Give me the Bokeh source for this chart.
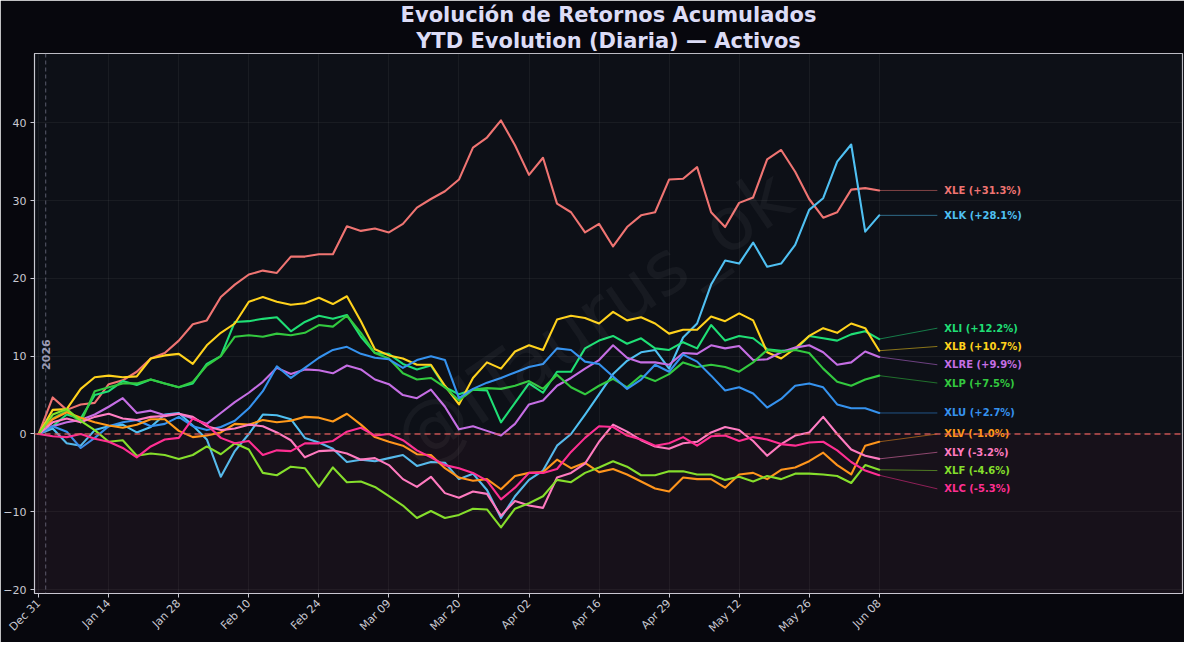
import math
from bokeh.plotting import figure
from bokeh.models import FixedTicker, Label, Span, BoxAnnotation, ColumnDataSource, Title
from bokeh.embed import file_html
from bokeh.resources import INLINE
from bokeh.core.properties import value

# ---------------- data ----------------
DAY = list(range(0, 121, 2))          # trading-day index, Dec 31 = 0
TICK_POS = [0, 10, 20, 30, 40, 50, 60, 70, 80, 90, 100, 110, 120]
TICK_LABELS = ["Dec 31", "Jan 14", "Jan 28", "Feb 10", "Feb 24", "Mar 09", "Mar 20",
               "Apr 02", "Apr 16", "Apr 29", "May 12", "May 26", "Jun 08"]
YEAR_START = 1                         # first session of 2026
Y_TICKS = [-20, -10, 0, 10, 20, 30, 40]

XLE = [0, 4.7, 3.1, 3.8, 4.0, 6.4, 6.9, 8.0, 9.7, 10.4, 12.0, 14.1, 14.6, 17.6, 19.2, 20.5, 21.0, 20.7, 22.8, 22.8,
       23.1, 23.1, 26.7, 26.1, 26.4, 25.9, 27.0, 29.1, 30.2, 31.2, 32.7, 36.8, 38.1, 40.3, 37.1, 33.3, 35.5, 29.6, 28.5,
       25.9, 27.0, 24.1, 26.6, 28.1, 28.5, 32.7, 32.8, 34.3, 28.5, 26.6, 29.7, 30.4, 35.3, 36.5, 33.7, 30.2, 27.8, 28.5,
       31.4, 31.6, 31.3]
XLK = [0, 0.7, -1.2, -1.5, 0.5, 1.0, 1.2, 0.2, 0.9, 2.5, 2.7, 1.1, -0.7, -5.5, -2.2, 0.0, 2.5, 2.4, 1.9, -0.5,
       -1.1, -1.9, -3.6, -3.3, -3.5, -3.1, -2.7, -4.1, -3.6, -3.7, -5.8, -5.1, -7.2, -10.8, -8.0, -5.9, -4.7, -1.5, 0.0,
       2.5, 5.1, 7.7, 9.4, 10.5, 10.8, 8.4, 12.4, 14.2, 19.2, 22.3, 21.9, 24.6, 21.5, 21.9, 24.3, 28.8, 30.3, 35.0,
       37.2, 26.0, 28.1]
XLI = [0, 1.0, 2.5, 2.0, 5.0, 5.5, 6.8, 6.3, 7.0, 6.5, 6.0, 6.5, 9.0, 10.0, 14.4, 14.5, 14.8, 15.0, 13.2, 14.4,
       15.2, 14.8, 15.3, 12.5, 10.4, 10.3, 9.0, 8.3, 8.8, 6.0, 5.1, 5.7, 5.6, 1.5, 4.0, 6.5, 5.3, 8.0, 8.0,
       11.0, 12.0, 12.6, 11.6, 12.3, 11.0, 10.8, 11.8, 11.0, 14.0, 12.0, 12.6, 12.3, 10.9, 10.7, 10.8, 12.6, 12.3, 12.0,
       12.8, 13.2, 12.2]
XLB = [0, 3.1, 3.2, 5.8, 7.3, 7.5, 7.3, 7.4, 9.7, 10.1, 10.3, 9.0, 11.4, 13.0, 14.2, 17.0, 17.6, 17.0, 16.6, 16.8,
       17.5, 16.7, 17.7, 14.5, 10.9, 10.1, 9.7, 8.9, 8.9, 6.2, 3.8, 7.2, 9.2, 8.4, 10.6, 11.4, 10.8, 14.7, 15.2,
       14.9, 14.2, 15.7, 14.6, 15.0, 14.2, 12.9, 13.4, 13.4, 15.1, 14.5, 15.5, 14.6, 10.5, 9.7, 11.0, 12.6, 13.6, 13.0,
       14.2, 13.6, 10.7]
XLRE = [0, 1.0, 1.5, 1.8, 2.5, 3.5, 4.6, 2.7, 3.0, 2.4, 2.6, 2.0, 1.3, 2.7, 4.1, 5.3, 6.7, 8.5, 7.7, 8.3,
        8.2, 7.8, 8.8, 8.3, 7.0, 6.4, 5.0, 4.6, 5.7, 3.5, 0.6, 1.0, 0.4, -0.2, 1.3, 3.8, 4.3, 6.2, 7.2,
        8.4, 9.5, 11.4, 9.8, 9.2, 9.2, 8.9, 10.4, 10.3, 11.4, 11.0, 11.3, 9.5, 9.6, 10.5, 11.1, 11.4, 10.5, 8.9,
        9.2, 10.6, 9.9]
XLP = [0, 2.0, 3.0, 1.5, 5.5, 6.0, 6.5, 6.5, 7.0, 6.5, 6.0, 6.7, 8.8, 10.0, 12.5, 12.7, 12.5, 12.9, 12.7, 13.0,
       14.0, 13.8, 15.2, 13.0, 10.4, 9.7, 7.8, 7.0, 7.2, 6.0, 4.3, 5.7, 5.9, 5.8, 6.2, 6.8, 5.8, 7.6, 6.0,
       5.1, 6.2, 7.1, 6.0, 7.5, 6.8, 7.7, 9.2, 8.6, 8.9, 8.6, 8.0, 9.2, 10.8, 10.5, 10.8, 10.4, 8.4, 6.7,
       6.2, 7.0, 7.5]
XLU = [0, 1.0, 0.3, -1.8, -0.5, 1.0, 1.5, 1.8, 1.0, 1.3, 2.2, 1.0, 0.5, 0.9, 1.7, 3.3, 5.5, 8.7, 7.2, 8.5,
       9.8, 10.8, 11.2, 10.3, 9.8, 9.6, 8.5, 9.5, 10.0, 9.5, 4.6, 5.8, 6.6, 7.2, 7.9, 8.6, 9.0, 11.0, 10.8,
       9.3, 9.0, 7.4, 5.8, 7.0, 8.9, 8.0, 10.2, 9.3, 7.5, 5.6, 6.0, 5.2, 3.4, 4.5, 6.2, 6.5, 6.0, 3.8,
       3.3, 3.3, 2.7]
XLV = [0, 1.9, 2.8, 2.1, 1.5, 1.1, 0.8, 1.2, 1.9, 1.9, 0.4, -0.4, -0.2, 0.2, 1.3, 1.2, 1.8, 1.5, 1.7, 2.2,
       2.1, 1.6, 2.6, 1.2, -0.4, -1.0, -1.5, -2.6, -2.7, -4.4, -5.6, -6.0, -5.8, -7.1, -5.4, -5.0, -4.9, -3.3, -4.4,
       -3.7, -4.9, -4.5, -5.2, -6.1, -7.0, -7.4, -5.6, -5.8, -5.8, -6.9, -5.2, -5.0, -5.8, -4.6, -4.3, -3.5, -2.4, -4.0,
       -5.2, -1.5, -1.0]
XLY = [0, 1.5, 2.0, 1.5, 2.2, 2.6, 2.0, 1.8, 2.2, 2.3, 2.6, 2.2, 1.0, 0.5, 0.7, 1.2, 1.0, 0.2, -0.8, -3.0,
       -2.2, -2.1, -2.5, -3.3, -3.1, -4.0, -5.8, -6.8, -5.5, -7.6, -8.2, -7.4, -7.7, -10.5, -8.6, -9.2, -9.5, -5.6, -5.0,
       -3.8, -1.0, 1.2, 0.3, -0.8, -1.6, -1.9, -1.2, -1.0, 0.2, 0.9, 0.5, -0.9, -2.8, -1.3, -0.2, 0.2, 2.2, 0.0,
       -2.0, -2.8, -3.2]
XLF = [0, 2.5, 3.2, 1.7, 0.5, -1.0, -0.8, -2.8, -2.5, -2.7, -3.2, -2.7, -1.6, -2.6, -1.2, -2.0, -5.0, -5.3, -4.2, -4.4,
       -6.8, -4.3, -6.2, -6.1, -6.8, -8.0, -9.2, -10.8, -9.9, -10.8, -10.4, -9.6, -9.7, -12.0, -9.6, -8.9, -8.0, -5.9, -6.2,
       -5.0, -4.3, -3.5, -4.2, -5.3, -5.3, -4.8, -4.8, -5.2, -5.2, -5.9, -5.5, -6.1, -5.4, -5.8, -5.1, -5.1, -5.2, -5.4,
       -6.3, -4.0, -4.6]
XLC = [0, -0.3, -0.4, 0.0, -0.6, -1.0, -1.8, -3.0, -1.6, -0.7, -0.5, 2.0, 1.2, -0.5, -1.2, -0.9, -2.7, -2.1, -2.2, -1.2,
       -1.2, -0.9, 0.3, 0.8, -0.2, 0.0, -0.8, -2.1, -3.0, -4.0, -4.4, -5.0, -6.0, -8.4, -6.9, -5.0, -5.0, -4.5, -2.3,
       -0.5, 1.0, 0.9, -0.2, -0.7, -1.5, -1.2, -0.4, -1.5, -0.3, -0.2, -0.9, -0.4, -0.7, -1.3, -1.5, -1.1, -1.0, -2.1,
       -3.6, -4.7, -5.3]

NAMES = ["XLE", "XLK", "XLI", "XLB", "XLRE", "XLP", "XLU", "XLV", "XLY", "XLF", "XLC"]
VALUES = [XLE, XLK, XLI, XLB, XLRE, XLP, XLU, XLV, XLY, XLF, XLC]
COLORS = ["#ef7472", "#4fc0f2", "#1fdf75", "#ffd21c", "#c56ee4", "#33c93f",
          "#3592ee", "#ff9a1a", "#ff7ec4", "#80e62a", "#ff2f95"]

TITLE_1 = "Evolución de Retornos Acumulados"
TITLE_2 = "YTD Evolution (Diaria) — Activos"
WATERMARK = "@ITaurus_ok"

FONT = "DejaVu Sans"
FG = "#c9c9d2"

# ---------------- figure ----------------
p = figure(frame_width=1148, frame_height=540,
           x_range=(-0.6, 163.3), y_range=(-20.5, 48.9),
           output_backend="svg", toolbar_location=None,
           min_border_top=2, min_border_left=27, min_border_right=2, min_border_bottom=3)

p.background_fill_color = "#0d1017"
p.border_fill_color = "#07070d"
p.outline_line_color = FG
p.outline_line_alpha = 0.9
p.outline_line_width = 1.2

# two-line title (the last added sits on top)
p.add_layout(Title(text=TITLE_2, align="center", text_font=FONT, text_font_style="bold",
                   text_font_size="21px", text_color="#dcdcf6", standoff=1), "above")
p.add_layout(Title(text=TITLE_1, align="center", text_font=FONT, text_font_style="bold",
                   text_font_size="21px", text_color="#dcdcf6", standoff=0), "above")

# shaded negative area
p.add_layout(BoxAnnotation(top=0, fill_color="#ff2a5a", fill_alpha=0.045, line_alpha=0))

# grid
p.xgrid.ticker = FixedTicker(ticks=TICK_POS)
p.ygrid.ticker = FixedTicker(ticks=Y_TICKS)
p.grid.grid_line_color = "#ffffff"
p.grid.grid_line_alpha = 0.05

# axes
p.xaxis.ticker = FixedTicker(ticks=TICK_POS)
p.xaxis.major_label_overrides = {t: lab for t, lab in zip(TICK_POS, TICK_LABELS)}
p.xaxis.major_label_orientation = math.pi / 4
p.yaxis.ticker = FixedTicker(ticks=Y_TICKS)
p.yaxis.major_label_overrides = {t: (("\u2212" + str(-t)) if t < 0 else str(t)) for t in Y_TICKS}
for ax in (p.xaxis, p.yaxis):
    ax.major_label_text_color = FG
    ax.major_label_text_font = FONT
    ax.major_label_text_font_size = "11px"
    ax.axis_line_color = FG
    ax.major_tick_line_color = FG
    ax.major_tick_out = 4
    ax.major_tick_in = 0
    ax.minor_tick_line_color = None
    ax.major_label_standoff = 4

# watermark
p.add_layout(Label(x=79, y=15.0, text=WATERMARK, angle=0.60, text_font=FONT,
                   text_font_size="74px", text_color="#ffffff", text_alpha=0.045,
                   text_align="center", text_baseline="middle"))

# reference lines
p.add_layout(Span(location=0, dimension="width", line_color="#e35b5b",
                  line_dash="6 4", line_width=1.3, line_alpha=0.85))
p.add_layout(Span(location=YEAR_START, dimension="height", line_color="#8a8aa2",
                  line_dash="4 3", line_width=1, line_alpha=0.6))
p.add_layout(Label(x=YEAR_START, y=10.2, text="2026", angle=math.pi / 2,
                   text_font=FONT, text_font_style="bold", text_font_size="11px",
                   text_color="#9b9bb6", text_align="center", text_baseline="middle"))

# series
for name, vals, col in zip(NAMES, VALUES, COLORS):
    p.line(DAY, vals, line_color=col, line_width=2.1, line_join="round", line_cap="round")

# end labels, spread so they do not overlap
def spread(vals, gap, iters=400):
    order = sorted(range(len(vals)), key=lambda i: -vals[i])
    pos = [vals[i] for i in order]
    for _ in range(iters):
        for j in range(len(pos) - 1):
            d = pos[j] - pos[j + 1]
            if d < gap:
                s = (gap - d) / 2
                pos[j] += s
                pos[j + 1] -= s
    out = [0.0] * len(vals)
    for k, i in enumerate(order):
        out[i] = pos[k]
    return out

ends = [v[-1] for v in VALUES]
label_y = spread(ends, 2.35)
x_end = DAY[-1]
x_conn = x_end + 8.3
x_text = x_end + 9.3
for e, ly, col in zip(ends, label_y, COLORS):
    p.line([x_end, x_conn], [e, ly], line_color=col, line_width=0.8, line_alpha=0.65)

src = ColumnDataSource(dict(x=[x_text] * len(NAMES), y=label_y,
                            t=[f"{n} ({e:+.1f}%)" for n, e in zip(NAMES, ends)], c=COLORS))
p.text(x="x", y="y", text="t", text_color="c", source=src, text_font=value(FONT),
       text_font_style="bold", text_font_size="10px", text_align="left", text_baseline="middle")

open("out.html", "w").write(file_html(p, INLINE))
